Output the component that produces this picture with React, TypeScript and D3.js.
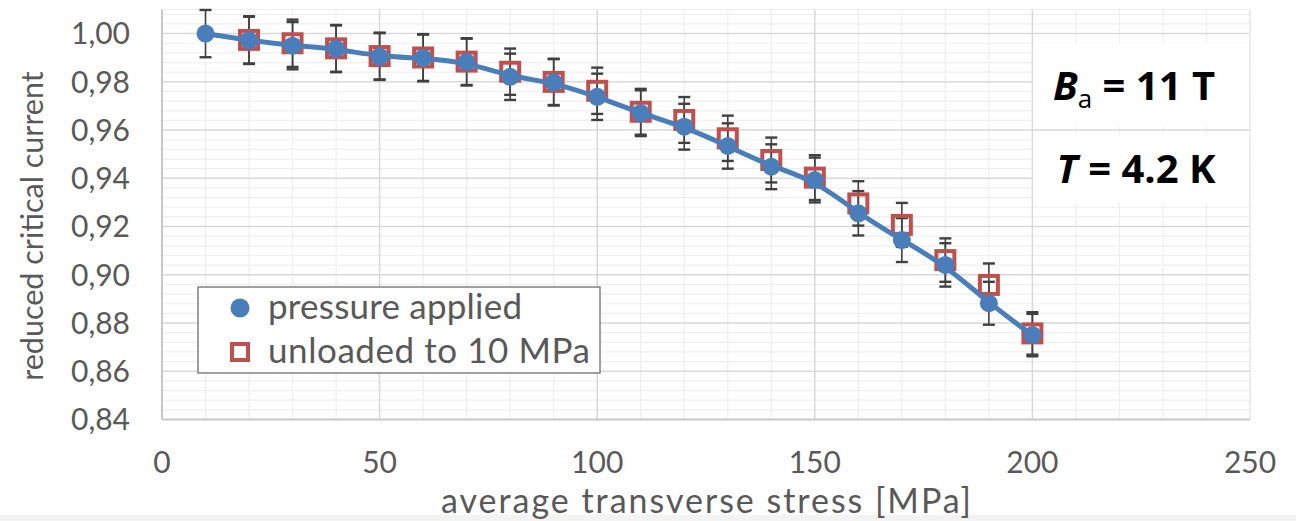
import React from "react";
import * as d3 from "d3";

// average transverse stress [MPa]
const stressApplied = [10, 20, 30, 40, 50, 60, 70, 80, 90, 100, 110, 120, 130, 140, 150, 160, 170, 180, 190, 200];
const pressureApplied = [1.0, 0.9972, 0.995, 0.9937, 0.9905, 0.9899, 0.9882, 0.9821, 0.9798, 0.9738, 0.967, 0.9614, 0.9534, 0.9448, 0.9393, 0.9255, 0.9144, 0.9041, 0.8882, 0.875];
const errApplied = [0.0098, 0.0098, 0.0098, 0.0097, 0.0097, 0.0097, 0.0097, 0.0096, 0.0096, 0.0096, 0.0095, 0.0095, 0.0094, 0.0093, 0.0093, 0.0092, 0.0091, 0.009, 0.0089, 0.0088];

const stressUnloaded = [20, 30, 40, 50, 60, 70, 80, 90, 100, 110, 120, 130, 140, 150, 160, 170, 180, 190, 200];
const unloaded = [0.9974, 0.996, 0.9939, 0.9907, 0.9901, 0.9884, 0.9842, 0.98, 0.9763, 0.9676, 0.9642, 0.9566, 0.9476, 0.9403, 0.9296, 0.9207, 0.9061, 0.8958, 0.8757];
const errUnloaded = [0.0098, 0.0098, 0.0097, 0.0097, 0.0097, 0.0097, 0.0096, 0.0096, 0.0096, 0.0095, 0.0095, 0.0094, 0.0093, 0.0093, 0.0092, 0.0091, 0.009, 0.0089, 0.0088];

const xTicks = [0, 50, 100, 150, 200, 250];
const xMinor = [10, 20, 30, 40, 60, 70, 80, 90, 110, 120, 130, 140, 160, 170, 180, 190, 210, 220, 230, 240];
const yTicks = [0.84, 0.86, 0.88, 0.9, 0.92, 0.94, 0.96, 0.98, 1.0];

const legendLabels = ["pressure applied", "unloaded to 10 MPa"];

const BLUE = "#4a7ebb";
const RED = "#c0504d";
const GREY_TEXT = "#595959";
const FONT = "Lato, 'Open Sans', sans-serif";

const W = 1296;
const H = 521;

const fmt = d3.formatLocale({ decimal: ",", thousands: ".", grouping: [3], currency: ["", ""] }).format(".2f");

export default function App() {
  const x = d3.scaleLinear([0, 250], [162, 1250]);
  const y = d3.scaleLinear([0.84, 1.01], [419.5, 9.5]);

  const yMinor = d3.range(0.844, 1.0101, 0.004).filter(v => Math.abs(Math.round(v / 0.02) * 0.02 - v) > 1e-6);

  // smoothed line through the "pressure applied" series
  const line = d3.line<number>((d, i) => x(stressApplied[i]), d => y(d)).curve(d3.curveBasis);

  const errBar = (cx: number, v: number, e: number, key: string) => (
    <g key={key} stroke="#404040">
      <line x1={cx} x2={cx} y1={y(v + e)} y2={y(v - e)} strokeWidth={1.6} />
      <line x1={cx - 6} x2={cx + 6} y1={y(v + e)} y2={y(v + e)} strokeWidth={2.4} />
      <line x1={cx - 6} x2={cx + 6} y1={y(v - e)} y2={y(v - e)} strokeWidth={2.4} />
    </g>
  );

  return (
    <div style={{ position: "absolute", left: 0, top: 0 }}>
      <svg width={W} height={H} style={{ display: "block", fontFamily: FONT }}>
        <rect width={W} height={H} fill="#fff" />
        <rect x={0} y={515} width={W} height={6} fill="#f3f3f3" />

        {/* minor grid */}
        <g stroke="#efefef" strokeWidth={1.2}>
          {yMinor.map(v => <line key={"ym" + v} x1={x(0)} x2={x(250)} y1={y(v)} y2={y(v)} />)}
          {xMinor.map(v => <line key={"xm" + v} x1={x(v)} x2={x(v)} y1={y(0.84)} y2={y(1.01)} />)}
        </g>
        {/* major grid */}
        <g stroke="#d9d9d9" strokeWidth={1.5}>
          {yTicks.slice(1).map(v => <line key={"y" + v} x1={x(0)} x2={x(250)} y1={y(v)} y2={y(v)} />)}
          {xTicks.slice(1, -1).map(v => <line key={"x" + v} x1={x(v)} x2={x(v)} y1={y(0.84)} y2={y(1.01)} />)}
        </g>
        <line x1={x(250)} x2={x(250)} y1={y(0.84)} y2={y(1.01)} stroke="#e6e6e6" strokeWidth={1.5} />
        <line x1={x(0)} x2={x(250)} y1={y(1.01)} y2={y(1.01)} stroke="#eeeeee" strokeWidth={1.2} />
        {/* axes */}
        <line x1={x(0)} x2={x(0)} y1={y(0.84)} y2={y(1.01)} stroke="#c8c8c8" strokeWidth={2} />
        <line x1={x(0)} x2={x(250)} y1={y(0.84)} y2={y(0.84)} stroke="#c8c8c8" strokeWidth={2} />

        {/* annotation boxes */}
        <rect x={1033} y={43} width={216} height={84} fill="#fff" />
        <rect x={1033} y={133} width={216} height={70} fill="#fff" />
        <text x={1134} y={100} textAnchor="middle" fontSize={40} fontWeight={700} fill="#000" fontFamily="'Open Sans', sans-serif">
          <tspan fontStyle="italic">B</tspan>
          <tspan fontSize={26} fontWeight={400} dy={8}>a</tspan>
          <tspan dy={-8}> = 11 T</tspan>
        </text>
        <text x={1136} y={183} textAnchor="middle" fontSize={40} fontWeight={700} fill="#000" fontFamily="'Open Sans', sans-serif">
          <tspan fontStyle="italic">T</tspan>
          <tspan> = 4.2 K</tspan>
        </text>

        {/* tick labels */}
        <g fill={GREY_TEXT} fontSize={30}>
          {yTicks.map(v => (
            <text key={"yl" + v} x={130} y={y(v)} dy="0.36em" textAnchor="end">{fmt(v)}</text>
          ))}
          {xTicks.map(v => (
            <text key={"xl" + v} x={x(v)} y={462} dy="0.36em" textAnchor="middle">{v}</text>
          ))}
        </g>
        <text x={x(125)} y={513} textAnchor="middle" fontSize={34} fill={GREY_TEXT} textLength={530} lengthAdjust="spacing">average transverse stress [MPa]</text>
        <text transform="translate(43,226) rotate(-90)" textAnchor="middle" fontSize={30.5} fill={GREY_TEXT}>reduced critical current</text>

        {/* error bars */}
        {pressureApplied.map((v, i) => errBar(x(stressApplied[i]), v, errApplied[i], "ea" + i))}
        {unloaded.map((v, i) => errBar(x(stressUnloaded[i]), v, errUnloaded[i], "eu" + i))}

        {/* unloaded squares */}
        {unloaded.map((v, i) => (
          <rect key={"s" + i} x={x(stressUnloaded[i]) - 9} y={y(v) - 9} width={18} height={18} fill="none" stroke={RED} strokeWidth={4} />
        ))}
        {/* pressure applied circles + smooth line */}
        {pressureApplied.map((v, i) => (
          <circle key={"c" + i} cx={x(stressApplied[i])} cy={y(v)} r={9} fill={BLUE} />
        ))}
        <path d={line(pressureApplied) || ""} fill="none" stroke={BLUE} strokeWidth={5} strokeLinejoin="round" strokeLinecap="round" />

        {/* legend */}
        <rect x={198} y={287} width={402} height={86} fill="#fff" stroke="#808080" strokeWidth={1.5} />
        <circle cx={240} cy={308} r={9.5} fill={BLUE} />
        <rect x={232} y={344} width={16} height={16} fill="#fff" stroke={RED} strokeWidth={4} />
        <g fill={GREY_TEXT} fontSize={35}>
          <text x={268} y={319} textLength={254} lengthAdjust="spacing">{legendLabels[0]}</text>
          <text x={268} y={363} textLength={322} lengthAdjust="spacing">{legendLabels[1]}</text>
        </g>
      </svg>
    </div>
  );
}
